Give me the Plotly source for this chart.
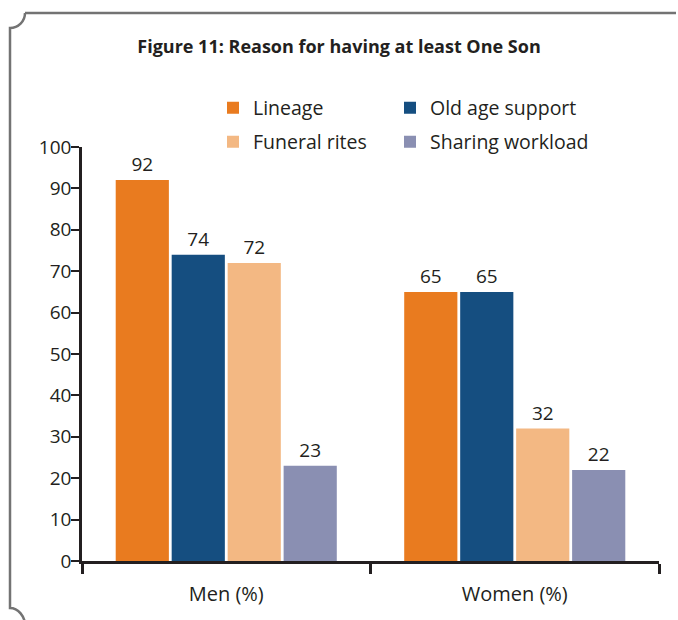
import plotly.graph_objects as go

categories = ["Men (%)", "Women (%)"]
series_names = ["Lineage", "Old age support", "Funeral rites", "Sharing workload"]
lineage = [92, 65]
old_age_support = [74, 65]
funeral_rites = [72, 32]
sharing_workload = [23, 22]
y_ticks = [0, 10, 20, 30, 40, 50, 60, 70, 80, 90, 100]

colors = ["#E97B1F", "#154E80", "#F3B883", "#8A8FB2"]
values = [lineage, old_age_support, funeral_rites, sharing_workload]
legends = ["legend", "legend2", "legend3", "legend4"]

W, H = 678, 620
ML, MR, MT, MB = 82, 19, 147, 59
PW, PH = W - ML - MR, H - MT - MB
FONT = "Open Sans"
TXT = "#231f20"


def px(x):
    return (x - ML) / PW


def py(y):
    return (H - MB - y) / PH


fig = go.Figure()
for name, vals, col, lg in zip(series_names, values, colors, legends):
    fig.add_trace(go.Bar(
        x=categories, y=vals, name=name, marker=dict(color=col, line=dict(width=0)),
        text=[str(v) for v in vals], textposition="outside", cliponaxis=False,
        textfont=dict(family=FONT, size=19, color=TXT), legend=lg,
    ))

# frame
k = 0.552 * 15
frame = (
    f"M{px(25)},{py(13)} L{px(676)},{py(13)} "
    f"M{px(25)},{py(13)} C{px(25)},{py(13 + k)} {px(10 + k)},{py(28)} {px(10)},{py(28)} "
    f"L{px(10)},{py(608)} C{px(10 + k)},{py(608)} {px(25)},{py(625 - k)} {px(25)},{py(625)}"
)
fig.add_shape(type="path", xref="paper", yref="paper", path=frame,
              line=dict(color="#737373", width=2.5), layer="above")

legend_common = dict(orientation="h", xanchor="left", yanchor="middle",
                     font=dict(family=FONT, size=19.5, color=TXT),
                     bgcolor="rgba(0,0,0,0)", itemclick=False)

fig.update_layout(
    width=W, height=H, margin=dict(l=ML, r=MR, t=MT, b=MB, autoexpand=False),
    paper_bgcolor="white", plot_bgcolor="white",
    barmode="group", bargap=0.224, bargroupgap=0.05,
    title=dict(text="<b>Figure 11: Reason for having at least One Son</b>",
               x=0.5, xref="container", xanchor="center",
               y=1 - 47 / H, yref="container", yanchor="middle",
               font=dict(family=FONT, size=18, color=TXT)),
    legend=dict(x=px(213), y=py(108), **legend_common),
    legend2=dict(x=px(390), y=py(108), **legend_common),
    legend3=dict(x=px(213), y=py(142), **legend_common),
    legend4=dict(x=px(390), y=py(142), **legend_common),
    xaxis=dict(showline=True, linecolor=TXT, linewidth=2.5, ticks="outside",
               tickson="boundaries", ticklen=10, tickwidth=2.5, tickcolor=TXT,
               ticklabelstandoff=13,
               tickfont=dict(family=FONT, size=20, color=TXT), showgrid=False),
    yaxis=dict(range=[0, 100], tickvals=y_ticks, showline=True, linecolor=TXT, linewidth=2.5,
               ticks="outside", ticklen=8, tickwidth=2, tickcolor=TXT,
               ticklabelstandoff=-4,
               tickfont=dict(family=FONT, size=19, color=TXT), showgrid=False,
               zeroline=False),
    showlegend=True,
)

fig.write_html("out.html")
